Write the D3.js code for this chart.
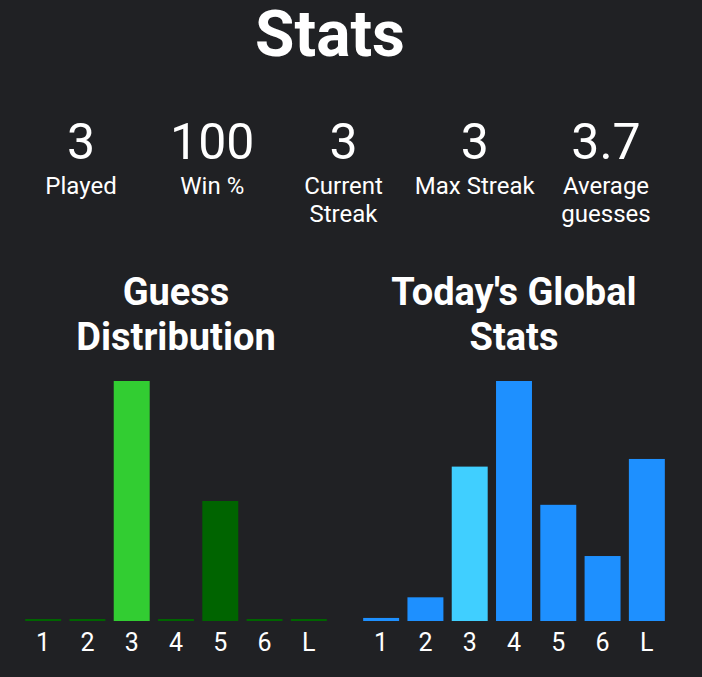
<!DOCTYPE html>
<html>
<head>
<meta charset="utf-8">
<script src="https://cdn.jsdelivr.net/npm/d3@7"></script>
<style>
  body { margin: 0; background: #202124; }
  svg { display: block; font-family: Roboto, sans-serif; }
</style>
</head>
<body>
<script>
// data
const statValues = ["3", "100", "3", "3", "3.7"];
const statLabels = [["Played"], ["Win %"], ["Current", "Streak"], ["Max Streak"], ["Average", "guesses"]];
const guesses = ["1", "2", "3", "4", "5", "6", "L"];
const myCounts = [0, 0, 2, 0, 1, 0, 0];
const globalPct = [0.4, 3.1, 20.2, 31.4, 15.2, 8.5, 21.2];
const todayGuess = "3";

const width = 702;
const height = 677;

var svg = d3.select("body").append("svg")
    .attr("width", width)
    .attr("height", height);

svg.append("text")
    .attr("x", 330)
    .attr("y", 56)
    .attr("text-anchor", "middle")
    .attr("fill", "#fff")
    .attr("font-size", 64)
    .attr("font-weight", 700)
    .text("Stats");

// stats row
var statX = d3.scalePoint()
    .domain(d3.range(statValues.length))
    .range([81, 606]);

var stat = svg.selectAll(".stat")
    .data(statValues)
    .enter()
    .append("g")
    .attr("class", "stat")
    .attr("transform", (d, i) => `translate(${statX(i)}, 0)`);

stat.append("text")
    .attr("y", 159)
    .attr("text-anchor", "middle")
    .attr("fill", "#fff")
    .attr("font-size", 50)
    .text(d => d);

stat.each(function(d, i) {
    d3.select(this).selectAll(".lbl")
        .data(statLabels[i])
        .enter()
        .append("text")
        .attr("y", (l, j) => 194 + j * 28)
        .attr("text-anchor", "middle")
        .attr("fill", "#fff")
        .attr("font-size", 24)
        .text(l => l);
});

function ShowBarChart(title, values, x0, x1, colorOf) {
    const bottom = 621;
    const top = 381;

    svg.selectAll(null)
        .data(title)
        .enter()
        .append("text")
        .attr("x", (x0 + x1) / 2)
        .attr("y", (d, i) => 305 + i * 45)
        .attr("text-anchor", "middle")
        .attr("fill", "#fff")
        .attr("font-size", 38)
        .attr("font-weight", 700)
        .text(d => d);

    var xscale = d3.scaleBand()
        .domain(guesses)
        .range([x0, x1])
        .paddingInner(0.188)
        .paddingOuter(0.094);

    var yscale = d3.scaleLinear()
        .domain([0, d3.max(values)])
        .range([bottom, top]);

    var g = svg.append("g");

    g.selectAll("rect")
        .data(values)
        .enter()
        .append("rect")
        .attr("x", (d, i) => xscale(guesses[i]))
        .attr("width", xscale.bandwidth())
        .attr("y", d => Math.min(yscale(d), bottom - 2))
        .attr("height", d => Math.max(bottom - yscale(d), 2))
        .attr("fill", (d, i) => colorOf(guesses[i]));

    var xaxis = d3.axisBottom(xscale)
        .tickSize(0)
        .tickPadding(12);

    var ax = g.append("g")
        .attr("transform", `translate(0, ${bottom})`)
        .call(xaxis);
    ax.select(".domain").remove();
    ax.selectAll("text")
        .attr("fill", "#fff")
        .attr("font-size", 25)
        .attr("font-family", "Roboto, sans-serif");
}

ShowBarChart(["Guess", "Distribution"], myCounts, 21, 331,
    k => k === todayGuess ? "#32cd32" : "#006400");
ShowBarChart(["Today's Global", "Stats"], globalPct, 359, 669,
    k => k === todayGuess ? "#40cfff" : "#1e90ff");
</script>
</body>
</html>
